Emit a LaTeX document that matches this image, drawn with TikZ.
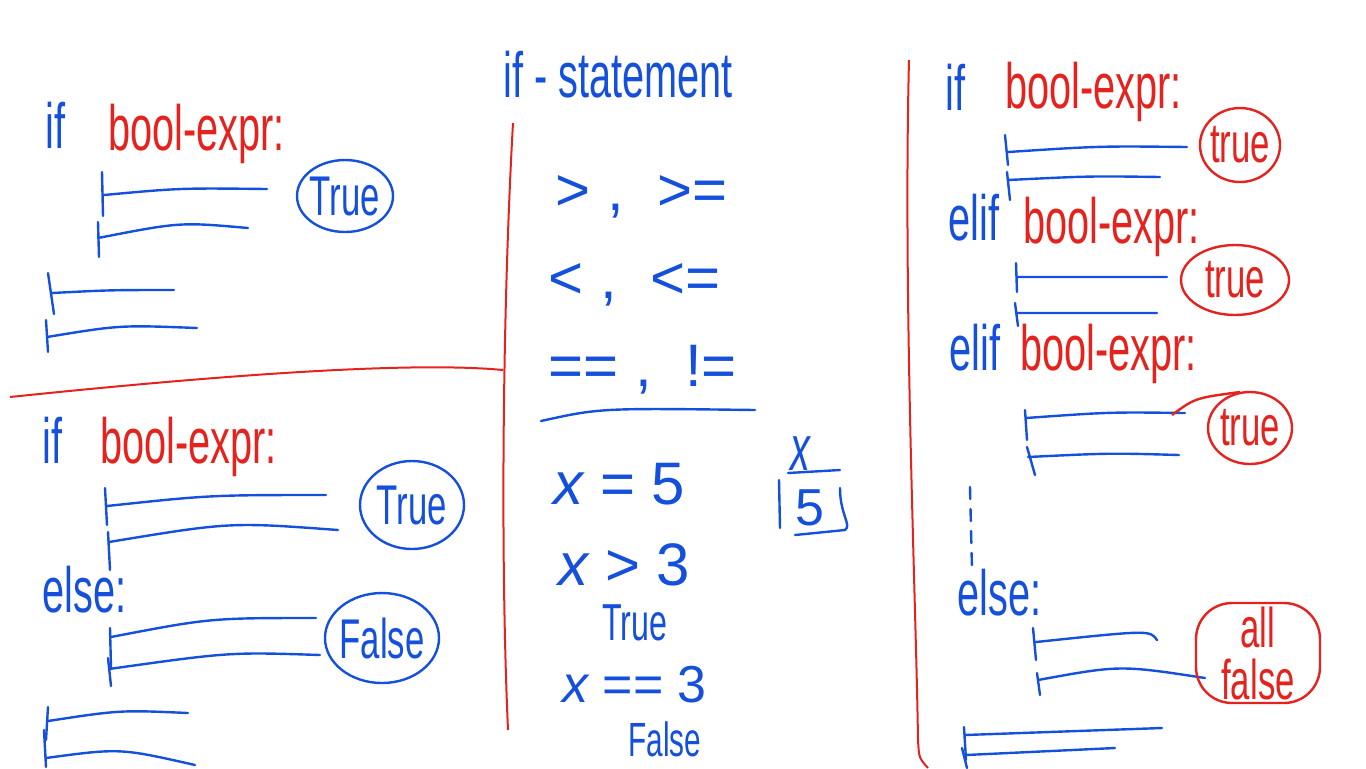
\documentclass[tikz,border=0pt]{standalone}
\usepackage{fontspec}
\usetikzlibrary{positioning}
\newfontfamily\handfont[FakeStretch=0.62]{Liberation Sans}
\newfontfamily\symbfont{Liberation Sans}
\definecolor{bluepen}{HTML}{1450DC}
\definecolor{redpen}{HTML}{E4231E}

\begin{document}
\begin{tikzpicture}[x=0.5pt,y=-0.5pt,
  word/.style={font=\handfont\fontsize{32}{38}\selectfont,inner sep=0pt,anchor=base west},
  kw/.style={word,text=bluepen},
  cond/.style={word,text=redpen},
  sym/.style={font=\symbfont\fontsize{30}{36}\selectfont,inner sep=0pt,anchor=base west,text=bluepen},
  inring/.style={font=\handfont\fontsize{28}{26}\selectfont,inner sep=0pt},
  stub/.style={draw=bluepen,line width=1.2pt,line cap=round},
  ring/.style={draw=#1,line width=1.2pt},
  rule/.style={draw=redpen,line width=1pt}]
\useasboundingbox (0,0) rectangle (1366,768);

% dividers
\draw[rule] (10,397) .. controls (250,372) and (420,362) .. (503,370);
\draw[rule] (513,123) .. controls (503,300) and (500,550) .. (508,730);
\draw[rule] (909,60) .. controls (903,300) and (916,600) .. (918,740) .. controls (919,758) .. (928,768);

% left, if only
\node[kw] (if1) at (45,148) {if};
\node[cond] (cond1) at (108,150) {bool-expr:};
\draw[stub] (102,172)--(103,216) (104,195) .. controls (180,188) .. (267,189);
\draw[stub] (98,222)--(99,257) (98,238) .. controls (180,222) .. (248,228);
\draw[stub] (48,273)--(54,314) (52,293) .. controls (110,290) .. (174,290);
\draw[stub] (46,320)--(48,352) (47,337) .. controls (120,325) .. (197,328);
\node[inring,text=bluepen] (yes1) at (345,196) {True};
\draw[ring=bluepen] (yes1.center) ellipse [x radius=24pt,y radius=18pt];

% left, if else
\node[kw] (if2) at (42,463) {if};
\node[cond] (cond2) at (100,463) {bool-expr:};
\draw[stub] (105,488)--(107,525) (107,506) .. controls (210,495) .. (326,495);
\draw[stub] (108,532)--(110,570) (109,542) .. controls (230,522) .. (338,530);
\node[inring,text=bluepen] (yes2) at (412,505) {True};
\draw[ring=bluepen] (yes2.center) ellipse [x radius=26pt,y radius=22pt];
\node[kw] (else1) at (42,612) {else:};
\draw[stub] (110,628)--(111,668) (111,637) .. controls (210,618) .. (316,618);
\draw[stub] (108,658)--(111,686) (109,669) .. controls (230,652) .. (320,655);
\node[inring,text=bluepen] (no1) at (382,638) {False};
\draw[ring=bluepen] (no1.center) ellipse [x radius=28.5pt,y radius=22.5pt];
\draw[stub] (48,707)--(46,740) (48,721) .. controls (120,710) .. (188,713);
\draw[stub] (44,730)--(46,767) (46,758) .. controls (120,748) .. (195,765);

% middle column
\node[kw] (title) at (503,97) {if - statement};
\node[sym] (gt) at (555,210) {> ,\ \ >=};
\node[sym] (lt) at (548,298) {< ,\ \ <=};
\node[sym] (eq) at (548,386) {== ,\ \ !=};
\draw[stub] (541,421) .. controls (600,408) .. (755,410);
\node[sym] (asg) at (553,504) {{\itshape x} = 5};
\node[kw] (var) at (790,470) {\itshape x};
\node[sym,font=\symbfont\fontsize{26}{30}\selectfont,anchor=center] (val) at (810,508) {5};
\draw[stub] (788,473)--(840,470) (779,480)--(780,528)
  (840,488) .. controls (840,515) and (852,525) .. (845,530) -- (795,535);
\node[sym] (cmp1) at (558,585) {{\itshape x} > 3};
\node[kw,font=\handfont\fontsize{26}{30}\selectfont] (res1) at (602,640) {True};
\node[sym,font=\symbfont\fontsize{26}{30}\selectfont] (cmp2) at (562,702) {{\itshape x} == 3};
\node[kw,font=\handfont\fontsize{24}{28}\selectfont] (res2) at (628,756) {False};

% right, if elif else
\node[kw] (if3) at (945,110) {if};
\node[cond] (cond3) at (1005,108) {bool-expr:};
\draw[stub] (1005,135)--(1008,165) (1008,152) .. controls (1100,146) .. (1187,147);
\draw[stub] (1007,172)--(1010,200) (1008,180) .. controls (1090,176) .. (1160,177);
\node[inring,text=redpen] (yes3) at (1240,145) {true};
\draw[ring=redpen] (yes3.center) ellipse [x radius=20pt,y radius=18.5pt];
\node[kw] (elif1) at (948,240) {elif};
\node[cond] (cond4) at (1023,243) {bool-expr:};
\draw[stub] (1016,263)--(1017,292) (1017,277) -- (1167,277);
\draw[stub] (1015,303)--(1018,326) (1017,313) -- (1157,313);
\node[inring,text=redpen] (yes4) at (1235,280) {true};
\draw[ring=redpen] (yes4.center) ellipse [x radius=27pt,y radius=17.5pt];
\node[kw] (elif2) at (949,370) {elif};
\node[cond] (cond5) at (1020,370) {bool-expr:};
\draw[stub] (1025,410)--(1027,440) (1026,418) .. controls (1110,412) .. (1185,413);
\draw[stub] (1027,447)--(1035,475) (1028,457) .. controls (1110,453) .. (1179,455);
\node[inring,text=redpen] (yes5) at (1250,428) {true};
\draw[ring=redpen] (yes5.center) ellipse [x radius=21pt,y radius=18pt];
\coordinate (tail) at (1172,415);
\draw[ring=redpen] (tail) .. controls (1195,398) .. (1240,392);
\draw[stub,dash pattern=on 6pt off 5pt] (970,487) -- (972,570);
\node[kw] (else2) at (957,615) {else:};
\draw[stub] (1033,628)--(1036,660) (1036,642) .. controls (1150,630) .. (1157,640);
\draw[stub] (1037,673)--(1040,695) (1038,680) .. controls (1120,665) .. (1205,678);
\node[inring,text=redpen,align=center,draw=redpen,line width=1.2pt,rounded corners=18pt,
  minimum width=62pt,minimum height=50pt] (none) at (1258,653) {all\\false};
\draw[stub] (964,727)--(966,760) (965,735) -- (1162,728);
\draw[stub] (962,748)--(967,768) (966,755) -- (1115,748);
\end{tikzpicture}
\end{document}
